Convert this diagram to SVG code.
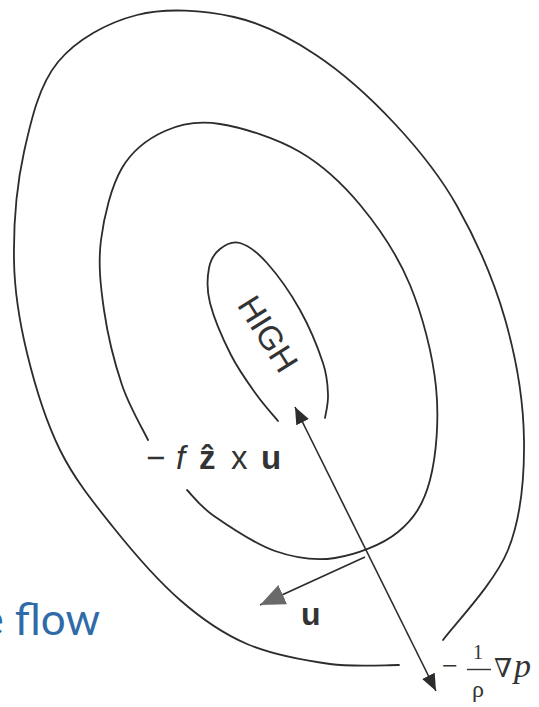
<svg xmlns="http://www.w3.org/2000/svg" width="539" height="707" viewBox="0 0 539 707">
  <style>
    .iso { fill: none; stroke: #2c2c2c; stroke-width: 1.8; stroke-linecap: round; }
    .arr { fill: none; stroke: #2c2c2c; stroke-width: 1.6; }
    .sans { font-family: "Liberation Sans", Arial, "DejaVu Sans", sans-serif; fill: #333; }
    .serif { font-family: "Liberation Serif", "DejaVu Serif", serif; fill: #333; }
    .title { font-family: Lato, "Open Sans", sans-serif; fill: #2e6ba8; font-size: 44px; }
  </style>
  <defs>
    <marker id="ah" viewBox="0 0 17 14" refX="17" refY="7" markerWidth="17" markerHeight="14" markerUnits="userSpaceOnUse" orient="auto-start-reverse">
      <path d="M0,0 L17,7 L0,14 Z" fill="#2c2c2c"/>
    </marker>
    <marker id="ahu" viewBox="0 0 25 21" refX="25" refY="10.5" markerWidth="25" markerHeight="21" markerUnits="userSpaceOnUse" orient="auto">
      <path d="M0,0 L25,10.5 L0,21 Z" fill="#6a6a6a"/>
    </marker>
  </defs>
  <rect width="539" height="707" fill="#ffffff"/>

  <g id="isobar-outer">
    <path class="iso" d="M399,665 C387.5,664.8 355.3,667.5 330,664 S272,654.7 247,644 S202.3,619.5 180,600 S133,552 113,527 S74.3,479 60,450 S34.7,384.7 27,353 S14.5,293.5 14,260 S16.7,185 24,152 S39.2,84.8 58,62 S107.7,22.5 137,15 S204.2,10.3 234,17 S289.2,37.2 316,55 S371.5,98.8 395,124 S438.7,173.5 457,206 S493.8,280 505,319 S523.5,401.5 524,440 S521.5,516.7 508,550 S453.8,625 443,640"/>
  </g>

  <g id="isobar-middle">
    <path class="iso" d="M148,440 C143.7,430.8 129.3,406.7 122,385 S107.5,334.2 104,310 S98,263.7 101,240 S111.3,186.2 122,168 S148.7,138.3 165,131 S197.5,120.5 220,124 S276.5,138.3 300,152 S342.7,183.8 361,206 S397.5,254.8 410,285 S432.7,354.5 436,387 S436.3,455.8 430,480 S413.8,519 398,532 S355.5,554.8 335,558 S295.2,558 275,551 S228.7,526.2 214,516 S191.5,494.3 187,490"/>
  </g>

  <g id="isobar-inner">
    <path class="iso" d="M278,421 C274.3,416.5 263.8,405 256,394 S238.7,370.2 231,355 S213.7,317.5 210,303 S207.3,277 209,268 S214.8,253.2 220,249 S232.2,240.7 240,243 S257,251.8 267,263 S290.7,293.3 300,310 S318.3,348.8 323,363 S327.7,385.8 328,395 S325.5,414.2 325,418"/>
    <text id="label-high" class="sans" x="268" y="334" font-size="33" text-anchor="middle" dominant-baseline="central" transform="rotate(58 268 334)">HIGH</text>
  </g>

  <g id="connectors">
    <line id="arrow-pressure-gradient" class="arr" x1="295" y1="407" x2="436" y2="691" marker-start="url(#ah)" marker-end="url(#ah)"/>
    <line id="arrow-u" class="arr" x1="365" y1="557" x2="260" y2="605" marker-end="url(#ahu)"/>
  </g>

  <g id="label-coriolis" class="sans" font-size="33">
    <text x="146" y="469">−</text>
    <text x="176" y="469" font-style="italic">f</text>
    <text x="199" y="469" font-weight="bold">ẑ</text>
    <text x="231" y="469">x</text>
    <text x="261" y="469" font-weight="bold">u</text>
  </g>

  <g id="label-u">
    <text class="sans" x="301" y="625" font-size="32" font-weight="bold">u</text>
  </g>

  <g id="label-pgf" class="serif">
    <text x="442" y="675" font-size="28">−</text>
    <text x="478" y="659" font-size="20" text-anchor="middle">1</text>
    <line x1="467" y1="669.5" x2="491" y2="669.5" stroke="#333" stroke-width="1.4"/>
    <text x="478" y="697" font-size="24" text-anchor="middle">ρ</text>
    <text x="494" y="677" font-size="26">∇</text>
    <text x="514" y="677" font-size="34" font-style="italic">p</text>
  </g>

  <g id="title-fragment">
    <text class="title" x="100" y="635" text-anchor="end">e flow</text>
  </g>
</svg>
